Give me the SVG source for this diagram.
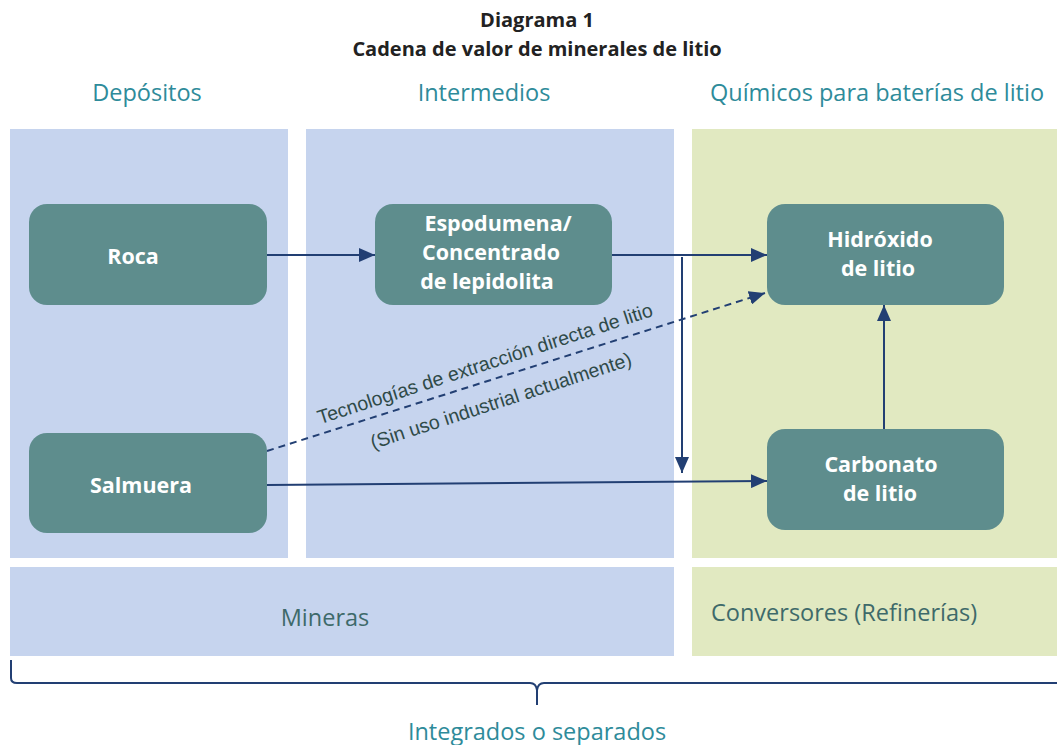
<svg xmlns="http://www.w3.org/2000/svg" width="1057" height="745" viewBox="0 0 1057 745">
<defs>
<style>
.blue{fill:#c6d4ee}
.green{fill:#e1e9c1}
.node{fill:#5e8d8d}
.nt{font-family:"Open Sans",sans-serif;font-weight:bold;font-size:21.5px;fill:#ffffff;text-anchor:middle}
.hd{font-family:"Open Sans",sans-serif;font-size:23.5px;fill:#2e8b9a;text-anchor:middle}
.ttl{font-family:"Open Sans",sans-serif;font-weight:bold;font-size:20px;fill:#222222;text-anchor:middle}
.lb{font-family:"Open Sans",sans-serif;font-size:23.5px;fill:#3e6a6a}
.rot{font-family:"Liberation Sans",Arial,sans-serif;font-size:19.5px;fill:#2f4a48;text-anchor:middle}
.c{stroke:#223f73;stroke-width:2;fill:none}
</style>
<marker id="a" viewBox="0 0 16 14" refX="16" refY="7" markerWidth="16" markerHeight="14" markerUnits="userSpaceOnUse" orient="auto">
<path d="M0,0 L16,7 L0,14 z" fill="#223f73"/>
</marker>
</defs>
<rect width="1057" height="745" fill="#ffffff"/>
<g id="title">
<text class="ttl" x="537" y="27">Diagrama 1</text>
<text class="ttl" x="537" y="56">Cadena de valor de minerales de litio</text>
</g>
<g id="headers">
<text class="hd" x="147" y="101">Depósitos</text>
<text class="hd" x="484" y="101">Intermedios</text>
<text class="hd" x="877" y="101">Químicos para baterías de litio</text>
</g>
<g id="panels">
<rect class="blue" x="10" y="129" width="278" height="429"/>
<rect class="blue" x="306" y="129" width="368" height="429"/>
<rect class="green" x="692" y="129" width="365" height="429"/>
</g>
<g id="mineras">
<rect class="blue" x="10" y="567" width="664" height="89"/>
<text class="lb" x="325" y="626" text-anchor="middle">Mineras</text>
</g>
<g id="conversores">
<rect class="green" x="692" y="567" width="365" height="89"/>
<text class="lb" x="711" y="621">Conversores (Refinerías)</text>
</g>
<g id="connectors">
<line class="c" x1="267" y1="255" x2="375" y2="255" marker-end="url(#a)"/>
<line class="c" x1="612" y1="255" x2="767" y2="255" marker-end="url(#a)"/>
<line class="c" x1="682" y1="257" x2="682" y2="473" marker-end="url(#a)"/>
<line class="c" x1="267" y1="485" x2="767" y2="481" marker-end="url(#a)"/>
<line class="c" x1="884" y1="429" x2="884" y2="305" marker-end="url(#a)"/>
<line class="c" x1="267" y1="451" x2="765" y2="293" stroke-dasharray="7,5" marker-end="url(#a)"/>
</g>
<g id="dle-label">
<text class="rot" transform="translate(487,370) rotate(-18)">Tecnologías de extracción directa de litio</text>
<text class="rot" transform="translate(503,407) rotate(-18)">(Sin uso industrial actualmente)</text>
</g>
<g id="roca">
<rect class="node" x="29" y="204" width="238" height="101" rx="18"/>
<text class="nt" x="133" y="264">Roca</text>
</g>
<g id="salmuera">
<rect class="node" x="29" y="433" width="238" height="100" rx="18"/>
<text class="nt" x="141" y="493">Salmuera</text>
</g>
<g id="espodumena">
<rect class="node" x="375" y="204" width="237" height="101" rx="18"/>
<text class="nt" x="498" y="231">Espodumena/</text>
<text class="nt" x="491" y="260">Concentrado</text>
<text class="nt" x="487" y="289">de lepidolita</text>
</g>
<g id="hidroxido">
<rect class="node" x="767" y="204" width="237" height="101" rx="18"/>
<text class="nt" x="880" y="247">Hidróxido</text>
<text class="nt" x="878" y="276">de litio</text>
</g>
<g id="carbonato">
<rect class="node" x="767" y="429" width="237" height="101" rx="18"/>
<text class="nt" x="881" y="472">Carbonato</text>
<text class="nt" x="880" y="501">de litio</text>
</g>
<g id="brace">
<path class="c" d="M11,660 L11,678 Q11,683 17,683 L530,683 Q536,683 537,690 L537,705 M537,690 Q538,683 544,683 L1057,683"/>
<text class="hd" x="537" y="740">Integrados o separados</text>
</g>
</svg>
